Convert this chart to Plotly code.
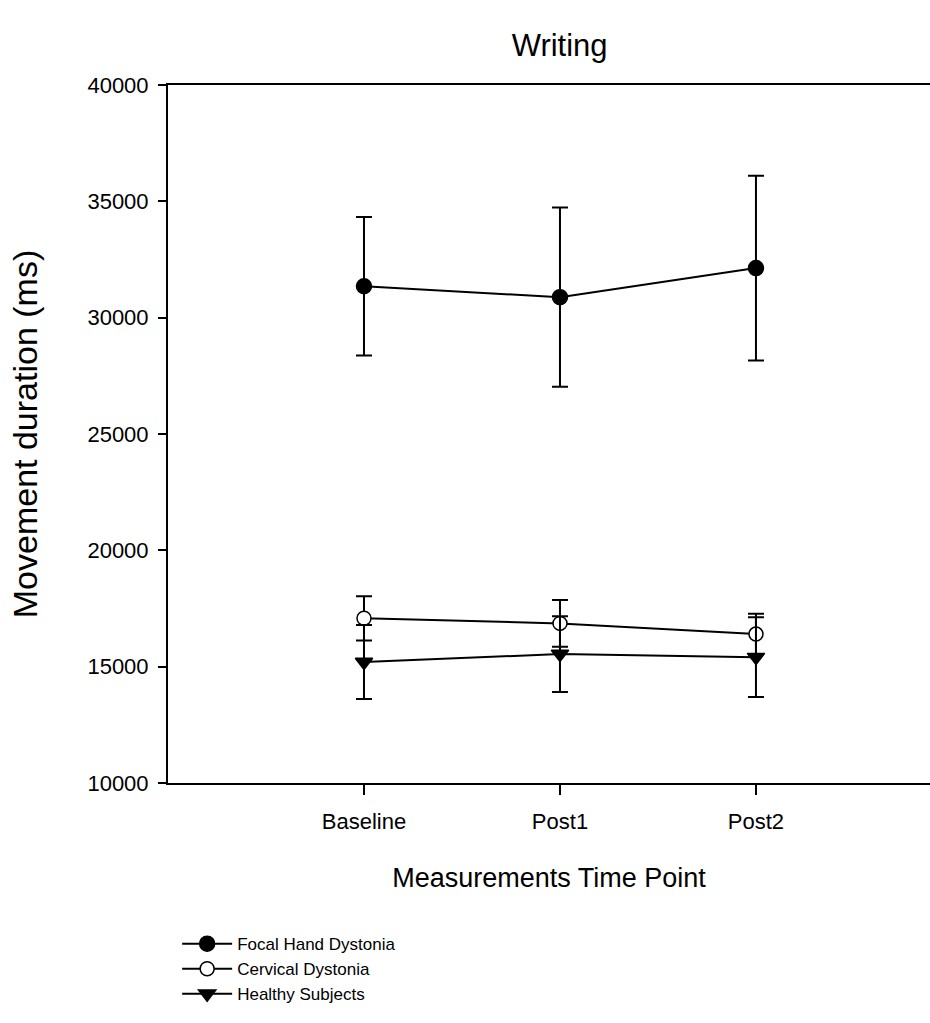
import plotly.graph_objects as go

categories = ["Baseline", "Post1", "Post2"]
x_pos = [1, 2, 3]

focal_mean = [31350, 30880, 32130]
focal_err = [2980, 3850, 3970]

cervical_mean = [17080, 16860, 16400]
cervical_err = [950, 1000, 870]

healthy_mean = [15200, 15540, 15410]
healthy_err = [1590, 1630, 1710]

y_ticks = [10000, 15000, 20000, 25000, 30000, 35000, 40000]

ARIAL = "Liberation Sans, Arial, sans-serif"

fig = go.Figure()

def add_series(name, mean, err, symbol, fill, size):
    fig.add_trace(go.Scatter(
        x=x_pos, y=mean, name=name, mode="lines+markers",
        line=dict(color="black", width=2),
        marker=dict(symbol=symbol, size=size, color=fill,
                    line=dict(color="black", width=1.5)),
        error_y=dict(type="data", array=err, visible=True,
                     color="black", thickness=2, width=8),
    ))

add_series("Focal Hand Dystonia", focal_mean, focal_err, "circle", "black", 15)
add_series("Cervical Dystonia", cervical_mean, cervical_err, "circle", "white", 14)
add_series("Healthy Subjects", healthy_mean, healthy_err, "triangle-down", "black", 15)

fig.update_layout(
    width=930, height=1023,
    margin=dict(l=168, r=0, t=85, b=240, autoexpand=False),
    paper_bgcolor="white", plot_bgcolor="white",
    title=dict(text="Writing", x=0.514, xref="paper", xanchor="center",
               y=0.956, yref="container", yanchor="middle",
               font=dict(family=ARIAL, size=31, color="black")),
    showlegend=True,
    legend=dict(x=0.012, xanchor="left", y=-0.205, yanchor="top",
                font=dict(family=ARIAL, size=17, color="black"),
                bgcolor="rgba(0,0,0,0)", itemwidth=50, tracegroupgap=0),
    font=dict(family=ARIAL, color="black"),
)

fig.update_xaxes(
    range=[0, 3.888], tickvals=x_pos, ticktext=categories,
    showgrid=False, zeroline=False, automargin=False,
    showline=True, linecolor="black", linewidth=2, mirror=True,
    ticks="outside", ticklen=10, tickwidth=2, tickcolor="black",
    ticklabelstandoff=8,
    tickfont=dict(family=ARIAL, size=22, color="black"),
    title=dict(text="Measurements Time Point",
               font=dict(family=ARIAL, size=27, color="black"), standoff=35),
)
fig.update_yaxes(
    range=[10000, 40000], tickvals=y_ticks, tickformat="d",
    showgrid=False, zeroline=False, automargin=False,
    showline=True, linecolor="black", linewidth=2, mirror=False,
    ticks="outside", ticklen=8, tickwidth=2, tickcolor="black",
    ticklabelstandoff=5,
    tickfont=dict(family=ARIAL, size=22, color="black"),
    title=dict(text="Movement duration (ms)",
               font=dict(family=ARIAL, size=34, color="black"), standoff=40),
)

fig.write_html("out.html", config={"displayModeBar": False},
               post_script="document.body.style.margin='0';document.body.style.overflow='hidden';")
